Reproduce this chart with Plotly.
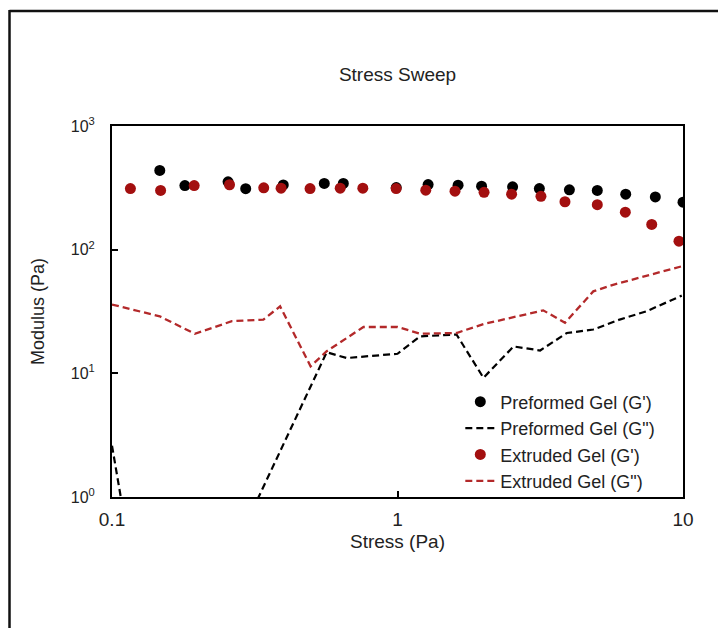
import plotly.graph_objects as go

# Preformed gel: storage modulus G' (points)
preformed_stress = [0.147, 0.180, 0.255, 0.294, 0.398, 0.554, 0.646, 0.99, 1.28, 1.63,
                    1.97, 2.53, 3.14, 4.0, 5.01, 6.3, 8.0, 10.0]
preformed_gp = [437, 330, 354, 311, 334, 343, 343, 318, 336, 332,
                326, 322, 312, 305, 301, 281, 267, 242]

# Preformed gel: loss modulus G'' (dashed line)
preformed_gpp_stress = [0.1, 0.116, 0.147, 0.18, 0.255, 0.294, 0.565, 0.664, 1.0, 1.2,
                        1.61, 2.0, 2.55, 3.16, 3.92, 4.85, 6.0, 7.46, 9.9]
preformed_gpp = [2.6, 0.35, 0.3, 0.25, 0.35, 0.6, 14.8, 13.3, 14.4, 19.9,
                 20.6, 9.2, 16.5, 15.3, 21.2, 22.6, 27.2, 31.8, 42.5]

# Extruded gel: storage modulus G' (points)
extruded_stress = [0.116, 0.148, 0.194, 0.258, 0.340, 0.391, 0.494, 0.630, 0.756, 0.989,
                   1.256, 1.59, 2.01, 2.51, 3.18, 3.86, 5.01, 6.28, 7.77, 9.68]
extruded_gp = [312, 301, 330, 335, 316, 314, 312, 314, 314, 312,
               303, 297, 291, 281, 270, 244, 231, 201, 160, 117]

# Extruded gel: loss modulus G'' (dashed line)
extruded_gpp_stress = [0.1, 0.147, 0.195, 0.263, 0.339, 0.388, 0.496, 0.565, 0.76, 1.0,
                       1.2, 1.61, 2.0, 2.55, 3.24, 3.86, 4.85, 5.69, 7.46, 9.9]
extruded_gpp = [36, 28.9, 20.9, 26.4, 27.2, 34.8, 11.4, 15.1, 23.7, 23.7,
                20.9, 21.2, 25.0, 28.4, 32.3, 25.6, 46, 52, 61.7, 73.4]

x_tickvals = [0.1, 1, 10]
x_ticktext = ["0.1", "1", "10"]
y_tickvals = [1, 10, 100, 1000]
y_ticktext = ["10<sup>0</sup>", "10<sup>1</sup>", "10<sup>2</sup>", "10<sup>3</sup>"]

FONT = "Liberation Sans, Arial, sans-serif"
TXT = "#222222"
RED_PT = "#a30f0f"
RED_LN = "#b3292a"
DASH = "7px,4px"

fig = go.Figure()
fig.add_trace(go.Scatter(
    x=preformed_stress, y=preformed_gp, mode="markers",
    name="Preformed Gel (G')",
    marker=dict(color="black", size=11, line=dict(width=0)),
))
fig.add_trace(go.Scatter(
    x=preformed_gpp_stress, y=preformed_gpp, mode="lines",
    name='Preformed Gel (G")',
    line=dict(color="black", width=2.2, dash=DASH),
))
fig.add_trace(go.Scatter(
    x=extruded_stress, y=extruded_gp, mode="markers",
    name="Extruded Gel (G')",
    marker=dict(color=RED_PT, size=11, line=dict(width=0)),
))
fig.add_trace(go.Scatter(
    x=extruded_gpp_stress, y=extruded_gpp, mode="lines",
    name='Extruded Gel (G")',
    line=dict(color=RED_LN, width=2.3, dash=DASH),
))

# Frame lines around the figure (top and left edges)
frame = dict(color="#111111", width=2.5)
fig.add_shape(type="line", xref="paper", yref="paper",
              x0=-0.1795, x1=1.2, y0=1.31, y1=1.31, line=frame)
fig.add_shape(type="line", xref="paper", yref="paper",
              x0=-0.1795, x1=-0.1795, y0=1.313, y1=-0.353, line=frame)

fig.update_layout(
    width=718, height=631,
    margin=dict(l=112, r=35, t=126, b=134, pad=0),
    paper_bgcolor="white", plot_bgcolor="white",
    font=dict(family=FONT, color=TXT),
    title=dict(text="Stress Sweep", x=0.5, xref="paper", xanchor="center",
               y=1 - 74 / 631, yref="container", yanchor="middle",
               font=dict(size=19, family=FONT, color=TXT)),
    showlegend=True,
    legend=dict(x=0.61, y=0.306, xanchor="left", yanchor="top",
                bgcolor="rgba(0,0,0,0)", borderwidth=0,
                font=dict(size=18, family=FONT, color=TXT)),
    xaxis=dict(type="log", range=[-1, 1],
               tickvals=x_tickvals, ticktext=x_ticktext,
               ticks="inside", ticklen=6, tickwidth=1.5, tickcolor="black",
               showline=True, linewidth=2, linecolor="black", mirror=True,
               showgrid=False, zeroline=False,
               tickfont=dict(size=19, family=FONT, color=TXT),
               ticklabelstandoff=4,
               title=dict(text="Stress (Pa)", standoff=6,
                          font=dict(size=19, family=FONT, color=TXT))),
    yaxis=dict(type="log", range=[0, 3],
               tickvals=y_tickvals, ticktext=y_ticktext,
               ticks="inside", ticklen=6, tickwidth=1.5, tickcolor="black",
               showline=True, linewidth=2, linecolor="black", mirror=True,
               showgrid=False, zeroline=False,
               tickfont=dict(size=16, family=FONT, color=TXT),
               ticklabelstandoff=12,
               title=dict(text="Modulus (Pa)", standoff=21,
                          font=dict(size=18, family=FONT, color=TXT))),
)

fig.write_html("out.html")
